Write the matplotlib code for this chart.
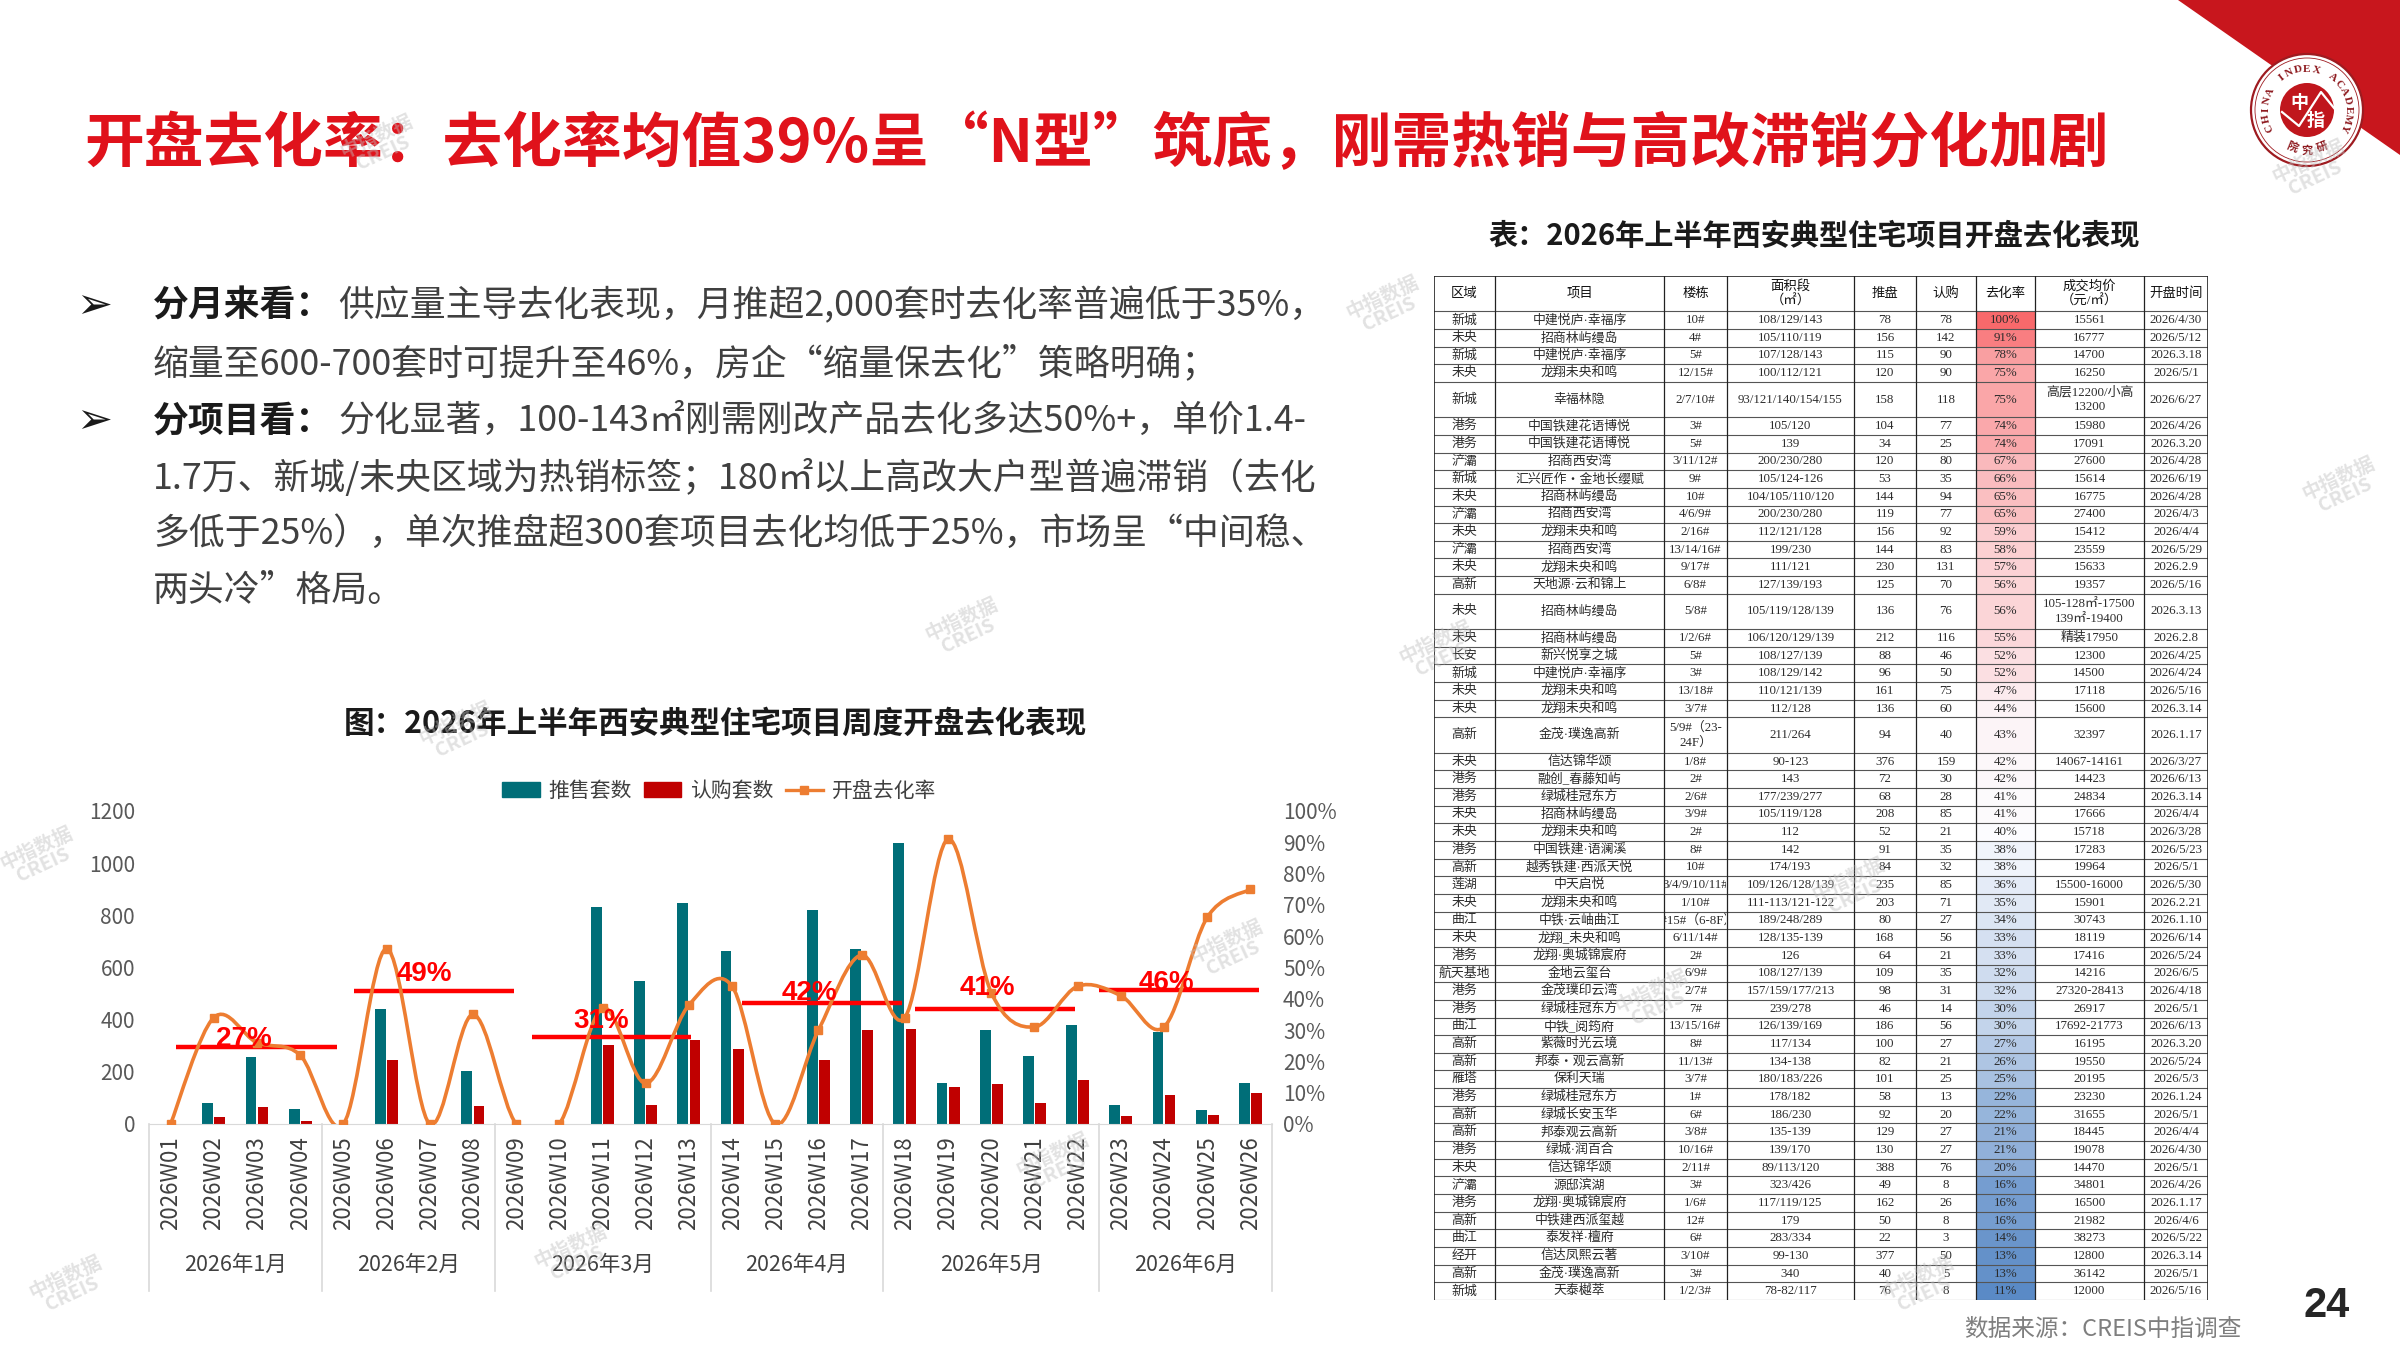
import numpy as np
import matplotlib
matplotlib.use('Agg')
import matplotlib.pyplot as plt
import matplotlib.colors as mcolors
from matplotlib.patches import Rectangle, Polygon, Circle, PathPatch, Patch
from matplotlib.path import Path
from matplotlib.lines import Line2D
from matplotlib.transforms import Bbox, TransformedBbox, blended_transform_factory

plt.rcParams['font.family'] = ['Noto Sans CJK SC', 'DejaVu Sans']
plt.rcParams['axes.unicode_minus'] = False

# ---------------- 周度数据 ----------------
weeks = ['2026W01', '2026W02', '2026W03', '2026W04', '2026W05', '2026W06', '2026W07',
         '2026W08', '2026W09', '2026W10', '2026W11', '2026W12', '2026W13', '2026W14',
         '2026W15', '2026W16', '2026W17', '2026W18', '2026W19', '2026W20', '2026W21',
         '2026W22', '2026W23', '2026W24', '2026W25', '2026W26']
supply = [0, 79, 256, 58, 0, 442, 0, 202, 0, 0, 831, 549, 848, 662, 0, 821, 670,
          1079, 156, 360, 260, 379, 71, 354, 53, 157]
subscribe = [0, 26, 66, 13, 0, 247, 0, 70, 0, 0, 303, 73, 323, 289, 0, 244, 361,
             365, 142, 153, 79, 168, 29, 111, 34, 117]
rate = [0, 34, 26, 22, 0, 56, 0, 35, 0, 0, 37, 13, 38, 44, 0, 30, 54, 34, 91, 42,
        31, 44, 41, 31, 66, 75]

months = ['2026年1月', '2026年2月', '2026年3月', '2026年4月', '2026年5月', '2026年6月']
month_sizes = [4, 4, 5, 4, 5, 4]
month_avg_labels = ['27%', '49%', '31%', '42%', '41%', '46%']
month_avg_level = [24.6, 42.5, 27.8, 38.8, 36.8, 42.9]

# 均值线 / 标签摆放位置
avg_span = [(0.13, 3.85), (4.25, 7.96), (8.36, 12.06), (13.22, 16.93), (17.23, 20.93), (21.5, 25.2)]
avg_label_xy = [(1.7, 27), (5.87, 48), (9.98, 33), (14.8, 42), (18.9, 43.6), (23.05, 45)]

# ---------------- 表格数据 ----------------
tab_header = ['区域', '项目', '楼栋', '面积段\n（㎡）', '推盘', '认购', '去化率', '成交均价\n（元/㎡）', '开盘时间']
t_region = ['新城', '未央', '新城', '未央', '新城', '港务', '港务', '浐灞', '新城', '未央',
            '浐灞', '未央', '浐灞', '未央', '高新', '未央', '未央', '长安', '新城', '未央',
            '未央', '高新', '未央', '港务', '港务', '未央', '未央', '港务', '高新', '莲湖',
            '未央', '曲江', '未央', '港务', '航天基地', '港务', '港务', '曲江', '高新', '高新',
            '雁塔', '港务', '高新', '高新', '港务', '未央', '浐灞', '港务', '高新', '曲江',
            '经开', '高新', '新城']
t_project = ['中建悦庐·幸福序', '招商林屿缦岛', '中建悦庐·幸福序', '龙翔未央和鸣', '幸福林隐',
             '中国铁建花语博悦', '中国铁建花语博悦', '招商西安湾', '汇兴匠作・金地长缨赋', '招商林屿缦岛',
             '招商西安湾', '龙翔未央和鸣', '招商西安湾', '龙翔未央和鸣', '天地源·云和锦上',
             '招商林屿缦岛', '招商林屿缦岛', '新兴悦享之城', '中建悦庐·幸福序', '龙翔未央和鸣',
             '龙翔未央和鸣', '金茂·璞逸高新', '信达锦华颂', '融创_春藤知屿', '绿城桂冠东方',
             '招商林屿缦岛', '龙翔未央和鸣', '中国铁建·语澜溪', '越秀铁建·西派天悦', '中天启悦',
             '龙翔未央和鸣', '中铁·云岫曲江', '龙翔_未央和鸣', '龙翔·奥城锦宸府', '金地云玺台',
             '金茂璞印云湾', '绿城桂冠东方', '中铁_阅筠府', '紫薇时光云境', '邦泰・观云高新',
             '保利天瑞', '绿城桂冠东方', '绿城长安玉华', '邦泰观云高新', '绿城·润百合',
             '信达锦华颂', '源邸滨湖', '龙翔·奥城锦宸府', '中铁建西派玺越', '泰发祥·檀府',
             '信达凤熙云著', '金茂·璞逸高新', '天泰樾萃']
t_building = ['10#', '4#', '5#', '12/15#', '2/7/10#', '3#', '5#', '3/11/12#', '9#', '10#',
              '4/6/9#', '2/16#', '13/14/16#', '9/17#', '6/8#', '5/8#', '1/2/6#', '5#', '3#', '13/18#',
              '3/7#', '5/9#（23-\n24F）', '1/8#', '2#', '2/6#', '3/9#', '2#', '8#', '10#', '3/4/9/10/11#',
              '1/10#', '5#15#（6-8F）', '6/11/14#', '2#', '6/9#', '2/7#', '7#', '13/15/16#', '8#', '11/13#',
              '3/7#', '1#', '6#', '3/8#', '10/16#', '2/11#', '3#', '1/6#', '12#', '6#',
              '3/10#', '3#', '1/2/3#']
t_area = ['108/129/143', '105/110/119', '107/128/143', '100/112/121', '93/121/140/154/155',
          '105/120', '139', '200/230/280', '105/124-126', '104/105/110/120',
          '200/230/280', '112/121/128', '199/230', '111/121', '127/139/193',
          '105/119/128/139', '106/120/129/139', '108/127/139', '108/129/142', '110/121/139',
          '112/128', '211/264', '90-123', '143', '177/239/277',
          '105/119/128', '112', '142', '174/193', '109/126/128/139',
          '111-113/121-122', '189/248/289', '128/135-139', '126', '108/127/139',
          '157/159/177/213', '239/278', '126/139/169', '117/134', '134-138',
          '180/183/226', '178/182', '186/230', '135-139', '139/170',
          '89/113/120', '323/426', '117/119/125', '179', '283/334',
          '99-130', '340', '78-82/117']
t_supply = [78, 156, 115, 120, 158, 104, 34, 120, 53, 144, 119, 156, 144, 230, 125, 136, 212,
            88, 96, 161, 136, 94, 376, 72, 68, 208, 52, 91, 84, 235, 203, 80, 168, 64, 109,
            98, 46, 186, 100, 82, 101, 58, 92, 129, 130, 388, 49, 162, 50, 22, 377, 40, 76]
t_sold = [78, 142, 90, 90, 118, 77, 25, 80, 35, 94, 77, 92, 83, 131, 70, 76, 116,
          46, 50, 75, 60, 40, 159, 30, 28, 85, 21, 35, 32, 85, 71, 27, 56, 21, 35,
          31, 14, 56, 27, 21, 25, 13, 20, 27, 27, 76, 8, 26, 8, 3, 50, 5, 8]
t_rate = [100, 91, 78, 75, 75, 74, 74, 67, 66, 65, 65, 59, 58, 57, 56, 56, 55,
          52, 52, 47, 44, 43, 42, 42, 41, 41, 40, 38, 38, 36, 35, 34, 33, 33, 32,
          32, 30, 30, 27, 26, 25, 22, 22, 21, 21, 20, 16, 16, 16, 14, 13, 13, 11]
t_price = ['15561', '16777', '14700', '16250', '高层12200/小高\n13200', '15980', '17091', '27600',
           '15614', '16775', '27400', '15412', '23559', '15633', '19357',
           '105-128㎡-17500\n139㎡-19400', '精装17950', '12300', '14500', '17118',
           '15600', '32397', '14067-14161', '14423', '24834', '17666', '15718', '17283',
           '19964', '15500-16000', '15901', '30743', '18119', '17416', '14216',
           '27320-28413', '26917', '17692-21773', '16195', '19550', '20195', '23230',
           '31655', '18445', '19078', '14470', '34801', '16500', '21982', '38273',
           '12800', '36142', '12000']
t_date = ['2026/4/30', '2026/5/12', '2026.3.18', '2026/5/1', '2026/6/27', '2026/4/26',
          '2026.3.20', '2026/4/28', '2026/6/19', '2026/4/28', '2026/4/3', '2026/4/4',
          '2026/5/29', '2026.2.9', '2026/5/16', '2026.3.13', '2026.2.8', '2026/4/25',
          '2026/4/24', '2026/5/16', '2026.3.14', '2026.1.17', '2026/3/27', '2026/6/13',
          '2026.3.14', '2026/4/4', '2026/3/28', '2026/5/23', '2026/5/1', '2026/5/30',
          '2026.2.21', '2026.1.10', '2026/6/14', '2026/5/24', '2026/6/5', '2026/4/18',
          '2026/5/1', '2026/6/13', '2026.3.20', '2026/5/24', '2026/5/3', '2026.1.24',
          '2026/5/1', '2026/4/4', '2026/4/30', '2026/5/1', '2026/4/26', '2026.1.17',
          '2026/4/6', '2026/5/22', '2026.3.14', '2026/5/1', '2026/5/16']

W, H = 2400, 1350
fig = plt.figure(figsize=(24, 13.5), dpi=100)
fig.patch.set_facecolor('white')

# 背景层，坐标即像素
bg = fig.add_axes([0, 0, 1, 1])
bg.set_zorder(-1)
bg.set_xlim(0, W)
bg.set_ylim(H, 0)
bg.axis('off')
rend = fig.canvas.get_renderer()

# 右上角红色三角与logo
bg.add_patch(Polygon([(2178, 0), (2400, 0), (2400, 155)], closed=True, color='#C8161D', lw=0))
cx, cy = 2307, 110
bg.add_patch(Circle((cx, cy), 56, facecolor='white', edgecolor='#9E1B20', lw=1.6))
bg.add_patch(Circle((cx, cy), 52, facecolor='none', edgecolor='#9E1B20', lw=0.6))
bg.add_patch(Circle((cx, cy), 27, facecolor='#C0161D', edgecolor='none'))
bg.text(cx - 8, cy - 8, '中', color='white', fontsize=13, fontweight='bold', ha='center', va='center')
bg.text(cx + 9, cy + 10, '指', color='white', fontsize=13, fontweight='bold', ha='center', va='center')
bg.plot([cx - 25, cx - 8, cx + 14, cx + 27], [cy + 2, cy + 16, cy - 18, cy - 2], color='white', lw=1.6)
ring = 'CHINA INDEX ACADEMY'
for k, ch in enumerate(ring):
    ang = np.deg2rad(205 - 230 * k / (len(ring) - 1))
    bg.text(cx + 41 * np.cos(ang), cy - 41 * np.sin(ang), ch, rotation=np.rad2deg(ang) - 90,
            ha='center', va='center', fontsize=8, fontweight='bold', color='#8E1A1F',
            family=['Liberation Serif'])
for k, ch in enumerate('研究院'):
    ang = np.deg2rad(-68 - 22 * k)
    bg.text(cx + 40 * np.cos(ang), cy - 40 * np.sin(ang), ch, rotation=np.rad2deg(ang) + 90,
            ha='center', va='center', fontsize=8, fontweight='bold', color='#8E1A1F')

# 标题
bg.text(84, 145, '开盘去化率：去化率均值39%呈“N型”筑底，刚需热销与高改滞销分化加剧',
        fontsize=43, fontweight='bold', color='#E0121B', va='center', ha='left')

# 观点文字
def rich_line(x, y, parts, size=25.8):
    for txt, bold in parts:
        t = bg.text(x, y, txt, fontsize=size, fontweight='bold' if bold else 'normal',
                    color='#1A1A1A' if bold else '#404040', va='center', ha='left')
        x = t.get_window_extent(rend).x1 + (6 if bold else 0)

line_y = [306, 364, 421, 478, 534, 591]
for yy in (line_y[0], line_y[2]):
    bg.text(76, yy, '➢', fontsize=31, color='#1A1A1A', va='center', ha='left', family=['DejaVu Sans'])
rich_line(153, line_y[0], [('分月来看：', True), ('供应量主导去化表现，月推超2,000套时去化率普遍低于35%，', False)])
rich_line(153, line_y[1], [('缩量至600-700套时可提升至46%，房企“缩量保去化”策略明确；', False)])
rich_line(153, line_y[2], [('分项目看：', True), ('分化显著，100-143㎡刚需刚改产品去化多达50%+，单价1.4-', False)])
rich_line(153, line_y[3], [('1.7万、新城/未央区域为热销标签；180㎡以上高改大户型普遍滞销（去化', False)])
rich_line(153, line_y[4], [('多低于25%），单次推盘超300套项目去化均低于25%，市场呈“中间稳、', False)])
rich_line(153, line_y[5], [('两头冷”格局。', False)])

# ---------------- 周度图 ----------------
bg.text(715, 724, '图：2026年上半年西安典型住宅项目周度开盘去化表现', fontsize=22,
        fontweight='bold', color='#1A1A1A', ha='center', va='center')

ax_l, ax_r, ax_b, ax_t = 149, 1272, 1124, 811
ax = fig.add_axes([ax_l / W, 1 - ax_b / H, (ax_r - ax_l) / W, (ax_b - ax_t) / H])
x = np.arange(len(weeks))
ax.bar(x - 0.14, supply, 0.25, color='#006E78', zorder=2)
ax.bar(x + 0.14, subscribe, 0.25, color='#C00000', zorder=2)
ax.set_xlim(-0.5, len(weeks) - 0.5)
ax.set_ylim(0, 1200)
ax.set_yticks(range(0, 1201, 200))
ax.set_xticks(x)
ax.set_xticklabels(weeks, rotation=90, fontsize=16, color='#404040')
ax.tick_params(axis='x', length=0, pad=9)
ax.tick_params(axis='y', length=0, pad=10, labelsize=15, labelcolor='#595959')
for s in ['top', 'right', 'left']:
    ax.spines[s].set_visible(False)
ax.spines['bottom'].set_color('#D9D9D9')
ax.patch.set_alpha(0)

tr = blended_transform_factory(ax.transData, ax.transAxes)
bounds = np.concatenate([[0], np.cumsum(month_sizes)]) - 0.5
for b in bounds:
    ax.plot([b, b], [0, -0.534], transform=tr, clip_on=False, color='#D9D9D9', lw=1.2)
for i, m in enumerate(months):
    ax.text((bounds[i] + bounds[i + 1]) / 2, -0.45, m, transform=tr, ha='center', va='center',
            fontsize=15.5, color='#404040')

ax2 = ax.twinx()
ax2.set_ylim(0, 100)
ax2.set_yticks(range(0, 101, 10))
ax2.set_yticklabels([f'{v}%' for v in range(0, 101, 10)])
ax2.tick_params(axis='y', length=0, pad=8, labelsize=15, labelcolor='#595959')
for s in ax2.spines.values():
    s.set_visible(False)

# 月均线
for (s0, s1), lvl in zip(avg_span, month_avg_level):
    ax2.plot([s0, s1], [lvl, lvl], color='#FF0000', lw=3.2, solid_capstyle='butt', zorder=2)

# 平滑去化率曲线（Catmull-Rom 转贝塞尔）
pts = np.column_stack([x, rate]).astype(float)
verts = [tuple(pts[0])]
codes = [Path.MOVETO]
n = len(pts)
for i in range(n - 1):
    p0 = pts[i - 1] if i > 0 else pts[i]
    p1, p2 = pts[i], pts[i + 1]
    p3 = pts[i + 2] if i + 2 < n else pts[i + 1]
    verts += [tuple(p1 + (p2 - p0) / 6), tuple(p2 - (p3 - p1) / 6), tuple(p2)]
    codes += [Path.CURVE4] * 3
ax2.add_patch(PathPatch(Path(verts, codes), fill=False, edgecolor='#ED7D31', lw=2.6, zorder=3))
ax2.plot(x, rate, ls='none', marker='s', ms=6, color='#ED7D31', zorder=4)

for (lx, ly), lab in zip(avg_label_xy, month_avg_labels):
    ax2.text(lx, ly, lab, ha='center', va='center', fontsize=20, fontweight='bold',
             color='#FF0000', family=['Liberation Sans'], zorder=5)

handles = [Patch(color='#006E78'), Patch(color='#C00000'),
           Line2D([], [], color='#ED7D31', lw=2.4, marker='s', ms=5.5)]
leg = fig.legend(handles, ['推售套数', '认购套数', '开盘去化率'], loc='center',
                 bbox_to_anchor=(719 / W, 1 - 791 / H), ncol=3, frameon=False, fontsize=15,
                 handlelength=1.8, handletextpad=0.4, columnspacing=0.6)
for t in leg.get_texts():
    t.set_color('#404040')

# ---------------- 表格 ----------------
bg.text(1814, 236, '表：2026年上半年西安典型住宅项目开盘去化表现', fontsize=21,
        fontweight='bold', color='#1A1A1A', ha='center', va='center')

rows = []
for i in range(len(t_region)):
    rows.append([t_region[i], t_project[i], t_building[i], t_area[i], str(t_supply[i]),
                 str(t_sold[i]), f'{t_rate[i]}%', t_price[i], t_date[i]])
row_h = [2] + [2 if any('\n' in c for c in r) else 1 for r in rows]
total = sum(row_h)

tx0, ty0, tw, th = 1434, 276, 774, 1024
tab = fig.add_axes([tx0 / W, 1 - (ty0 + th) / H, tw / W, th / H])
tab.set_xlim(0, tw)
tab.set_ylim(total, 0)
tab.axis('off')
col_x = [0, 61, 230, 293, 420, 482, 542, 601, 710, 774]

mid = np.median(t_rate)
lo, hi = min(t_rate), max(t_rate)
cmap = mcolors.LinearSegmentedColormap.from_list(
    'rate', [(0, '#5A8AC6'), ((mid - lo) / (hi - lo), '#FCFCFF'), (1, '#F8696B')])

cell_font = ['Liberation Serif', 'Noto Sans CJK SC']
y = 0
for r, (cells, h) in enumerate(zip([tab_header] + rows, row_h)):
    if r > 0:
        frac = (t_rate[r - 1] - lo) / (hi - lo)
        tab.add_patch(Rectangle((col_x[6], y), col_x[7] - col_x[6], h, facecolor=cmap(frac),
                                edgecolor='none', zorder=1))
    for c, txt in enumerate(cells):
        cb = TransformedBbox(Bbox([[col_x[c] + 1, y], [col_x[c + 1] - 1, y + h]]), tab.transData)
        t = tab.text((col_x[c] + col_x[c + 1]) / 2, y + h / 2, txt, ha='center', va='center',
                     fontsize=9.6 if r == 0 else 9.3, color='#111111' if r == 0 else '#2B2B2B',
                     family=cell_font, linespacing=1.25, zorder=3, clip_on=True)
        t.set_clip_box(cb)
        t.set_clip_path(None)
    y += h
    tab.plot([0, tw], [y, y], color='#555555', lw=0.8, zorder=2)
tab.plot([0, tw], [0, 0], color='#222222', lw=1.2, zorder=2)
for cxx in col_x:
    tab.plot([cxx, cxx], [0, total], color='#222222', lw=0.9 if 0 < cxx < tw else 1.2, zorder=2)

# 水印
wm = [(380, 145), (1386, 306), (2342, 487), (965, 628), (1439, 651), (2312, 170),
      (40, 857), (459, 732), (574, 1255), (69, 1286), (1056, 1163), (1921, 1286),
      (1852, 888), (1655, 1000), (1230, 950)]
for wx, wy in wm:
    fig.text(wx / W, 1 - wy / H, '中指数据\nCREIS', rotation=25, color='#BFBFBF', alpha=0.45,
             fontsize=14, ha='center', va='center', linespacing=0.9, fontweight='bold')

# 来源与页码
bg.text(1964, 1329, '数据来源：CREIS中指调查', fontsize=17, color='#7F7F7F', ha='left', va='center')
bg.text(2327, 1306, '24', fontsize=30, fontweight='bold', color='#262626', ha='center', va='center',
        family=['Liberation Sans'])

fig.savefig('out.png', dpi=100, facecolor='white')
